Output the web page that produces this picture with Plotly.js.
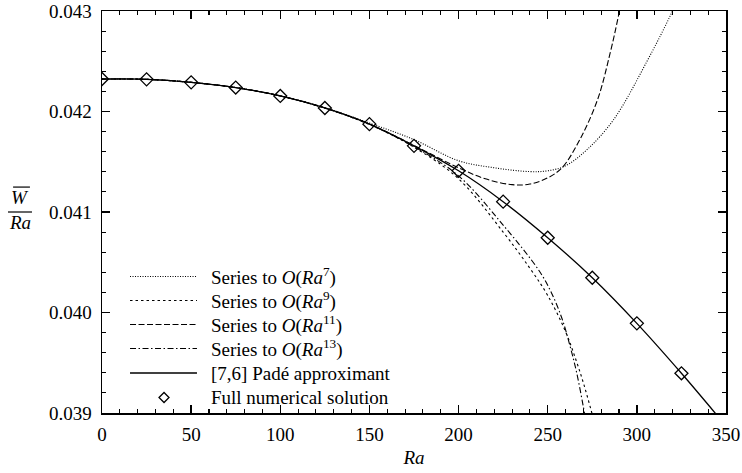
<!DOCTYPE html>
<html>
<head>
<meta charset="utf-8">
<script src="https://cdn.plot.ly/plotly-3.0.1.min.js"></script>
<style>html,body{margin:0;padding:0;background:#fff;}#chart{width:742px;height:473px;}</style>
</head>
<body>
<div id="chart"></div>
<script>
// Full numerical solution (diamonds)
const raNum = [0, 25, 50, 75, 100, 125, 150, 175, 200, 225, 250, 275, 300, 325];
const wNum = [0.042323, 0.042320, 0.042290, 0.042238, 0.042155, 0.042035, 0.041874, 0.041658, 0.041410, 0.041103, 0.040744, 0.040346, 0.039892, 0.039395];

// [7,6] Pade approximant
const raPade = [0, 25, 50, 75, 100, 125, 150, 175, 200, 225, 250, 275, 300, 325, 350];
const wPade = [0.042323, 0.042320, 0.042290, 0.042238, 0.042155, 0.042035, 0.041874, 0.041658, 0.041410, 0.041103, 0.040744, 0.040346, 0.039892, 0.039395, 0.038870];

// Series to O(Ra^7)
const raS7 = [0, 25, 50, 75, 100, 125, 150, 175, 200, 220, 240, 250, 260, 272, 287, 306, 320, 330];
const wS7 = [0.042323, 0.042320, 0.042290, 0.042238, 0.042156, 0.042038, 0.041885, 0.041720, 0.041510, 0.041440, 0.041402, 0.041410, 0.041460, 0.041620, 0.041920, 0.042510, 0.043000, 0.043400];

// Series to O(Ra^9)
const raS9 = [0, 25, 50, 75, 100, 125, 150, 175, 200, 225, 240, 250, 260, 266, 270, 274, 278];
const wS9 = [0.042323, 0.042320, 0.042290, 0.042238, 0.042155, 0.042034, 0.041870, 0.041645, 0.041330, 0.040800, 0.040440, 0.040170, 0.039810, 0.039520, 0.039300, 0.039050, 0.038780];

// Series to O(Ra^11)
const raS11 = [0, 25, 50, 75, 100, 125, 150, 175, 200, 215, 230, 240, 250, 258, 268, 278, 285, 290, 295];
const wS11 = [0.042323, 0.042320, 0.042290, 0.042238, 0.042155, 0.042035, 0.041876, 0.041662, 0.041440, 0.041330, 0.041272, 0.041278, 0.041340, 0.041440, 0.041720, 0.042120, 0.042580, 0.042980, 0.043450];

// Series to O(Ra^13)
const raS13 = [0, 25, 50, 75, 100, 125, 150, 175, 200, 225, 245, 252, 258, 262, 266, 270, 273];
const wS13 = [0.042323, 0.042320, 0.042290, 0.042238, 0.042155, 0.042035, 0.041872, 0.041650, 0.041360, 0.040870, 0.040420, 0.040200, 0.039940, 0.039700, 0.039420, 0.039060, 0.038750];

const seriesNames = [
  'Series to <i>O</i>(<i>Ra</i><sup>7</sup>)',
  'Series to <i>O</i>(<i>Ra</i><sup>9</sup>)',
  'Series to <i>O</i>(<i>Ra</i><sup>11</sup>)',
  'Series to <i>O</i>(<i>Ra</i><sup>13</sup>)',
  '[7,6] Padé approximant',
  'Full numerical solution'
];

const xTicks = [0, 50, 100, 150, 200, 250, 300, 350];
const yTicks = [0.039, 0.040, 0.041, 0.042, 0.043];
const yTickText = ['0.039', '0.040', '0.041', '0.042', '0.043'];

const FONT = 'Liberation Serif, Times New Roman, serif';
const thin = 1.1;
const dashes = ['1px,1.5px', '2.5px,3px', '6px,2.5px', '6px,2.5px,1.5px,2.5px', 'solid'];
const widths = [thin, thin, thin, thin, 1.3];

const lineData = [[raS7, wS7], [raS9, wS9], [raS11, wS11], [raS13, wS13], [raPade, wPade]];
const traces = lineData.map((d, i) => ({
  x: d[0], y: d[1], name: seriesNames[i], mode: 'lines', showlegend: false,
  line: {color: '#000', width: widths[i], dash: dashes[i], shape: 'spline', smoothing: 1}
}));
traces.push({x: raNum, y: wNum, name: seriesNames[5], mode: 'markers', showlegend: false,
  marker: {symbol: 'diamond-open', size: 10, color: '#000', line: {width: 1.3, color: '#000'}}});

const axisCommon = {
  showgrid: false, zeroline: false, showline: true, linecolor: '#000', linewidth: 1.5,
  mirror: 'allticks', ticks: 'inside', ticklen: 8, tickwidth: 1.3, tickcolor: '#000',
  tickfont: {family: FONT, size: 19, color: '#000'}
};

// legend drawn as layout decoration (rows in paper coordinates)
const legRowsY = [0.3396, 0.2799, 0.2201, 0.1604, 0.0995, 0.0386];
const legX0 = 0.0449, legX1 = 0.1522, legTextX = 0.171, legSymX = 0.0994;

const annotations = [
  {xref: 'paper', yref: 'paper', x: -0.131, y: 0.537, text: '<i>W</i>', showarrow: false,
   font: {family: FONT, size: 19, color: '#000'}, xanchor: 'center', yanchor: 'middle'},
  {xref: 'paper', yref: 'paper', x: -0.131, y: 0.474, text: '<i>Ra</i>', showarrow: false,
   font: {family: FONT, size: 19, color: '#000'}, xanchor: 'center', yanchor: 'middle'}
];
const shapes = [
  {type: 'line', xref: 'paper', yref: 'paper', x0: -0.1507, x1: -0.1122, y0: 0.5, y1: 0.5, line: {color: '#000', width: 1.2}},
  {type: 'line', xref: 'paper', yref: 'paper', x0: -0.1425, x1: -0.1155, y0: 0.562, y1: 0.562, line: {color: '#000', width: 1.2}}
];
seriesNames.forEach((nm, i) => {
  annotations.push({xref: 'paper', yref: 'paper', x: legTextX, y: legRowsY[i], text: nm, showarrow: false,
    xanchor: 'left', yanchor: 'middle', align: 'left', font: {family: FONT, size: 19, color: '#000'}});
  if (i < 5) {
    shapes.push({type: 'line', xref: 'paper', yref: 'paper', x0: legX0, x1: legX1, y0: legRowsY[i], y1: legRowsY[i],
      line: {color: '#000', width: widths[i], dash: dashes[i]}});
  } else {
    shapes.push({type: 'path', xref: 'paper', yref: 'paper', xsizemode: 'pixel', ysizemode: 'pixel',
      xanchor: legSymX, yanchor: legRowsY[i], path: 'M -5 0 L 0 5 L 5 0 L 0 -5 Z',
      line: {color: '#000', width: 1.3}, fillcolor: 'rgba(0,0,0,0)'});
  }
});

const layout = {
  width: 742, height: 473,
  margin: {l: 102, r: 16, t: 11, b: 60},
  paper_bgcolor: '#fff', plot_bgcolor: '#fff',
  font: {family: FONT, size: 18, color: '#000'},
  showlegend: false,
  xaxis: Object.assign({}, axisCommon, {
    range: [0, 350], tickvals: xTicks, ticklabelstandoff: 4,
    minor: {dtick: 10, ticks: 'inside', ticklen: 4, tickwidth: 1.1, tickcolor: '#000'},
    title: {text: '<i>Ra</i>', font: {family: FONT, size: 19, color: '#000'}, standoff: 6}
  }),
  yaxis: Object.assign({}, axisCommon, {
    range: [0.039, 0.043], tickvals: yTicks, ticktext: yTickText, ticklabelstandoff: 5,
    minor: {dtick: 0.0002, tick0: 0.039, ticks: 'inside', ticklen: 4, tickwidth: 1.1, tickcolor: '#000'}
  }),
  annotations: annotations,
  shapes: shapes
};

Plotly.newPlot('chart', traces, layout, {displayModeBar: false, staticPlot: true});
</script>
</body>
</html>
